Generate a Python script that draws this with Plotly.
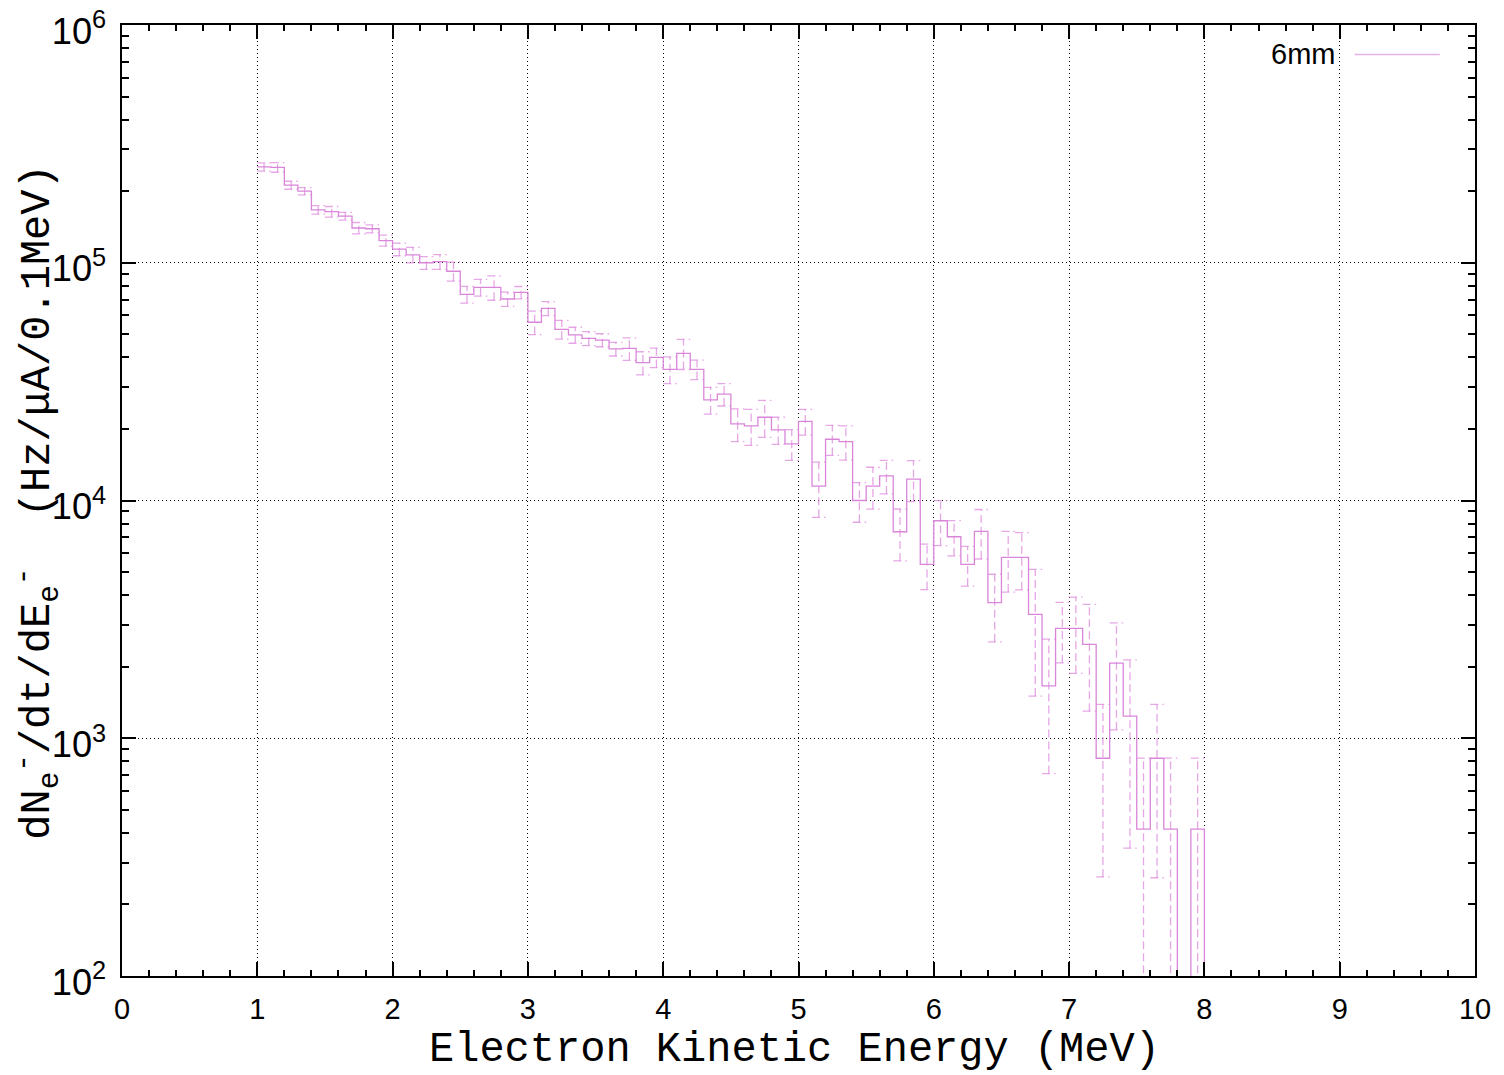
import plotly.graph_objects as go

# Electron energy spectrum behind the 6 mm sample, 0.1 MeV bins
bin_width = 0.1
bin_lo = [1.0, 1.1, 1.2, 1.3, 1.4, 1.5, 1.6, 1.7, 1.8, 1.9,
          2.0, 2.1, 2.2, 2.3, 2.4, 2.5, 2.6, 2.7, 2.8, 2.9,
          3.0, 3.1, 3.2, 3.3, 3.4, 3.5, 3.6, 3.7, 3.8, 3.9,
          4.0, 4.1, 4.2, 4.3, 4.4, 4.5, 4.6, 4.7, 4.8, 4.9,
          5.0, 5.1, 5.2, 5.3, 5.4, 5.5, 5.6, 5.7, 5.8, 5.9,
          6.0, 6.1, 6.2, 6.3, 6.4, 6.5, 6.6, 6.7, 6.8, 6.9,
          7.0, 7.1, 7.2, 7.3, 7.4, 7.5, 7.6, 7.7, 7.8, 7.9]

rate = [2.53e5, 2.52e5, 2.12e5, 2.00e5, 1.67e5, 1.64e5, 1.57e5, 1.40e5, 1.39e5, 1.24e5,
        1.14e5, 1.08e5, 1.00e5, 1.01e5, 9.21e4, 7.36e4, 7.88e4, 7.88e4, 7.04e4, 7.50e4,
        5.62e4, 6.43e4, 5.25e4, 4.97e4, 4.81e4, 4.73e4, 4.34e4, 4.36e4, 3.80e4, 4.00e4,
        3.56e4, 4.16e4, 3.56e4, 2.65e4, 2.80e4, 2.10e4, 2.06e4, 2.24e4, 1.98e4, 1.73e4,
        2.15e4, 1.15e4, 1.81e4, 1.77e4, 1.00e4, 1.15e4, 1.27e4, 7390, 1.23e4, 5390,
        8220, 7040, 5390, 7420, 3720, 5770, 5770, 3320, 1660, 2900,
        2900, 2480, 824, 2070, 1240, 415, 824, 415, 0, 415]

rate_err = [10200, 11700, 8200, 7150, 6950, 8400, 5800, 7660, 5380, 6600,
            7000, 8050, 6150, 7200, 8470, 5950, 6370, 9270, 4870, 4470,
            6350, 4370, 4730, 3850, 3260, 2980, 2860, 4730, 4230, 3760,
            4590, 6040, 3340, 3410, 3030, 3310, 3550, 3970, 2590, 2550,
            2660, 3000, 2620, 2920, 1900, 2300, 2040, 1820, 2400, 1170,
            1760, 1190, 1025, 1745, 1175, 1650, 1560, 1815, 950, 825,
            1025, 1180, 563, 985, 895, 410, 565, 410, 0, 410]

series_name = "6mm"
x_title = "Electron Kinetic Energy (MeV)"
y_title = "dN<sub>e</sub><sup>-</sup>/dt/dE<sub>e</sub><sup>-</sup>\u00a0\u00a0(Hz/\u03bcA/0.1MeV)"
step_color = "#d986d9"
err_color = "rgba(220,130,220,0.7)"

# empty bins drop below the visible log range
floor = 1.0

# histogram steps
step_x = bin_lo + [bin_lo[-1] + bin_width]
step_y = [v if v > 0 else floor for v in rate] + [floor]

# dashed error bars with caps spanning the bin
ex, ey = [], []
for lo, v, e in zip(bin_lo, rate, rate_err):
    if v <= 0:
        continue
    hi = lo + bin_width
    c = lo + bin_width / 2
    top = v + e
    bot = max(v - e, floor)
    ex += [c, c, None, lo, hi, None, lo, hi, None]
    ey += [bot, top, None, top, top, None, bot, bot, None]

fig = go.Figure()
fig.add_trace(go.Scatter(
    x=ex, y=ey, mode="lines", connectgaps=False,
    line=dict(color=err_color, width=1.3, dash="8px,4px"),
    showlegend=False, hoverinfo="skip"))
fig.add_trace(go.Scatter(
    x=step_x, y=step_y, mode="lines", name=series_name,
    line=dict(color=step_color, width=1.3, shape="hv"),
    showlegend=False))

tick_font = dict(family="Liberation Sans, Arial, sans-serif", size=29, color="black")
title_font = dict(family="Liberation Mono, Courier New, monospace", size=42, color="black")
grid_dash = "1px,3px"

fig.update_layout(
    width=1504, height=1075,
    margin=dict(l=122, r=29, t=25, b=99),
    paper_bgcolor="white", plot_bgcolor="white",
    xaxis=dict(
        range=[0, 10], tick0=0, dtick=1, automargin=False,
        ticks="inside", ticklen=14, tickwidth=1.5, tickcolor="black",
        showline=True, linecolor="black", linewidth=2, mirror="allticks",
        showgrid=True, gridcolor="black", gridwidth=1.2, griddash=grid_dash,
        zeroline=False, ticklabeloverflow="allow",
        minor=dict(dtick=0.2, ticks="inside", ticklen=6, tickwidth=1.5,
                   tickcolor="black", showgrid=False),
        tickfont=tick_font, ticklabelstandoff=6,
    ),
    yaxis=dict(
        type="log", range=[2, 6], dtick=1, automargin=False,
        exponentformat="power", showexponent="all",
        ticks="inside", ticklen=14, tickwidth=1.5, tickcolor="black",
        showline=True, linecolor="black", linewidth=2, mirror="allticks",
        showgrid=True, gridcolor="black", gridwidth=1.2, griddash=grid_dash,
        zeroline=False, ticklabeloverflow="allow",
        minor=dict(dtick="D1", ticks="inside", ticklen=7, tickwidth=1.5,
                   tickcolor="black", showgrid=False),
        tickfont=tick_font, ticklabelstandoff=8, ticklabelshift=6,
    ),
)

# axis titles
fig.add_annotation(x=0.4974, y=-0.078, xref="paper", yref="paper",
                   text=x_title, showarrow=False, xanchor="center", yanchor="middle",
                   font=title_font)
fig.add_annotation(x=-0.063, y=0.4984, xref="paper", yref="paper",
                   text=y_title, showarrow=False, xanchor="center", yanchor="middle",
                   textangle=-90, font=title_font)

# key: label on the left, line sample on the right
fig.add_annotation(x=0.898, y=0.969, xref="paper", yref="paper",
                   text=series_name, showarrow=False, xanchor="right", yanchor="middle",
                   font=dict(family="Liberation Sans, Arial, sans-serif", size=29, color="black"))
fig.add_shape(type="line", xref="paper", yref="paper",
              x0=0.911, x1=0.974, y0=0.969, y1=0.969,
              line=dict(color="#e8b0e8", width=1.3))

fig.write_html("out.html")
